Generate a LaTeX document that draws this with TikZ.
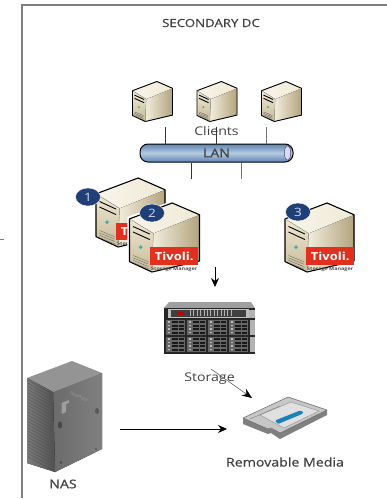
\documentclass[tikz,border=0pt]{standalone}
\usepackage{fontspec}
\setmainfont[FakeStretch=1.18]{Open Sans}
\newfontfamily\heavyfont[FakeStretch=1.18,FakeBold=0.6]{Open Sans}
\usetikzlibrary{arrows.meta,calc,shapes.geometric}
\definecolor{frameg}{HTML}{7F7F7F}
\definecolor{badge}{HTML}{E2301F}
\definecolor{numblue}{HTML}{1F3F76}
\definecolor{txt}{HTML}{404040}
\definecolor{lanA}{HTML}{5C86B4}
\definecolor{lanB}{HTML}{B4CADF}
\definecolor{sideA}{HTML}{F2EDDD}
\definecolor{sideB}{HTML}{B3A47E}
\definecolor{topA}{HTML}{F8F5EA}
\definecolor{topB}{HTML}{EFE9D6}
\definecolor{frontA}{HTML}{EFE8D3}
\definecolor{frontB}{HTML}{C6BA98}
\tikzset{
  lbl/.style={font=\fontsize{12}{13}\selectfont,text=txt,inner sep=0pt},
  heavy/.style={font=\heavyfont\fontsize{12}{13}\selectfont,text=txt,inner sep=0pt},
  wire/.style={draw=black!80,line width=.8pt},
  arr/.style={draw=black,line width=.7pt,-{Stealth[length=9pt,width=8pt]}},
  numdot/.style={ellipse,fill=numblue,draw=white,line width=.4pt,minimum width=25pt,minimum height=18pt,inner sep=0pt,text=white!85!blue,font=\fontsize{11.5}{12}\selectfont},
  tiv/.style={fill=badge,text=white,font=\bfseries\fontsize{11}{11}\selectfont,minimum width=48pt,minimum height=17.5pt,inner sep=0pt},
  sm/.style={font=\bfseries\fontsize{4.6}{5}\selectfont,text=black!70,inner sep=0pt},
  edge/.style={draw=black,line width=#1,line join=round}
}
% \tower{name}{x}{y}{w}{h}{line width}
\newcommand{\tower}[6]{%
  \node[inner sep=0pt,minimum width=#4pt,minimum height=#5pt,anchor=north west] (#1) at (#2,#3) {};
  \begin{scope}[shift={(#2,#3)},x=#4pt,y=-#5pt]
    \fill[white] (-.03,.2)--(.61,-.03)--(1.03,.15)--(1.03,.86)--(.3,1.03)--(-.03,.87)--cycle;
    \fill[left color=sideA,right color=sideB] (.34,.44)--(1,.17)--(1,.84)--(.32,1)--cycle;
    \fill[left color=topA,right color=topB] (0,.23)--(.61,0)--(1,.17)--(.34,.44)--cycle;
    \fill[top color=frontA,bottom color=frontB] (0,.23)--(.34,.44)--(.32,1)--(0,.85)--cycle;
    \draw[edge=#6] (0,.23)--(.61,0)--(1,.17)--(1,.84)--(.32,1)--(0,.85)--cycle;
    \draw[black!40,line width=.3pt] (0,.23)--(.34,.44)--(.32,1);
    \draw[black,line width=.9pt] (.05,.34)--(.29,.45);
    \draw[black,line width=.9pt] (.05,.42)--(.29,.53);
    \fill[white!30!teal] (.16,.64) circle[x radius=.028,y radius=.028];
    \foreach \k in {0,1,2,3} \draw[black!65,line width=.3pt] (.05,.76+.035*\k)--(.27,.85+.035*\k);
  \end{scope}}
% \tivoli{name}{x}{y}
\newcommand{\tivoli}[3]{%
  \node[tiv,anchor=north west] (#1) at (#2,#3) {Tivoli.};
  \node[sm,anchor=north] (#1sm) at ($(#1.south)+(0,2)$) {Storage Manager};}
\begin{document}
\begin{tikzpicture}[x=1pt,y=-1pt]
\useasboundingbox (0,0) rectangle (387,499);
% frame
\coordinate (ftr) at (387,5); \coordinate (ftl) at (22,5); \coordinate (fbl) at (22,498);
\draw[frameg,line width=1.4pt] (ftr)--(ftl)--(fbl);
\coordinate (tickA) at (0,239); \coordinate (tickB) at (3.5,239);
\draw[blue!60!gray!70,line width=.5pt] (tickA)--(tickB);
\node[heavy,font=\heavyfont\fontsize{11.2}{12}\selectfont] (title) at (211,23) {SECONDARY DC};
% clients
\tower{c1}{132.5}{81.5}{40}{40}{.9pt}
\tower{c2}{197}{81.5}{40}{40}{.9pt}
\tower{c3}{261.5}{81.5}{40}{40}{.9pt}
\node[lbl] (clients) at (216.5,131) {Clients};
% LAN
\node[inner sep=0pt,minimum width=153pt,minimum height=18pt,rounded corners=8pt,draw=black,line width=1pt,
  top color=lanA,bottom color=lanA,middle color=lanB] (lan) at (216.5,153) {};
\fill[white!85!blue,draw=black!70,line width=.5pt] ($(lan.east)+(-6,0)$) ellipse[x radius=3.2,y radius=7];
\node[heavy] (lantxt) at (lan.center) {LAN};
\coordinate (w1) at (165.5,127); \coordinate (w2) at (216.5,127); \coordinate (w3) at (266.5,127);
\coordinate (w4) at (191.5,179); \coordinate (w5) at (241.5,179);
\draw[wire] (w1)--(w1 |- lan.north);
\draw[wire] (w2)--(w2 |- lan.north);
\draw[wire,draw=black!55] (w3)--(w3 |- lan.north);
\draw[wire] (lan.south -| w4)--(w4);
\draw[wire,draw=black!55] (lan.south -| w5)--(w5);
% servers
\tower{s1}{96}{178}{69}{69}{1.1pt}
\tivoli{b1}{116}{222.5}
\tower{s2}{129.5}{203}{70}{69}{1.1pt}
\tivoli{b2}{150}{247}
\tower{s3}{285}{203}{69}{69}{1.1pt}
\tivoli{b3}{306}{247}
\node[numdot] (n1) at (88,197) {1};
\node[numdot] (n2) at (152,213) {2};
\node[numdot] (n3) at (298,212) {3};
% storage
\node[inner sep=0pt,minimum width=91pt,minimum height=52pt,anchor=north west] (st) at (164,302) {};
\fill[gray!75] (169,302)--(251,302)--(255,308)--(164,308)--cycle;
\fill[black!85] (164,308) rectangle (255,354);
\fill[gray!50] (168,308.5) rectangle (249,318);
\fill[black!75] (171,310) rectangle (246,317);
\fill[red!75!black] (177,311.5) rectangle (184,314.5);
\foreach \i in {0,...,12} \fill[gray!60] (190+3.4*\i,310) rectangle (191+3.4*\i,316);
\fill[gray!60] (249,310) rectangle (255,318);
\foreach \yy in {320,337}{
  \foreach \xx in {166,187,208,229}{
    \fill[black!60] (\xx,\yy) rectangle (\xx+19,\yy+15);
    \foreach \r in {0,1,2,3}{
      \fill[black!90] (\xx+6,\yy+1+3.5*\r) rectangle (\xx+12,\yy+3+3.5*\r);
      \fill[black!90] (\xx+13,\yy+1+3.5*\r) rectangle (\xx+18,\yy+3+3.5*\r);
      \fill[white!75!black] (\xx+2,\yy+1+3.5*\r) rectangle (\xx+4,\yy+2.6+3.5*\r);
    }
  }
  \fill[gray!60] (250,\yy) rectangle (255,\yy+15);
}
\node[lbl] (stlbl) at (209.5,379) {Storage};
% arrows
\coordinate (a1) at (215,267); \coordinate (a2) at (215,287);
\draw[arr] (a1)--(a2);
\coordinate (a3) at (211,369); \coordinate (a4) at (252,398);
\draw[draw=black!70,line width=.5pt,-{Stealth[length=10pt,width=8pt,black]}] (a3)--(a4);
\coordinate (a5) at (120,429); \coordinate (a6) at (227,429);
\draw[arr] (a5)--(a6);
% NAS
\node[inner sep=0pt,minimum width=75pt,minimum height=111pt,anchor=north west] (nas) at (27,361) {};
\fill[left color=black!58,right color=black!50] (53,392)--(102,373)--(102,449)--(55,472)--cycle;
\fill[black!42] (27,378)--(72,361)--(102,373)--(53,392)--cycle;
\fill[left color=black!52,right color=black!68] (27,378)--(53,392)--(55,472)--(27,463)--cycle;
\foreach \k in {0,...,24} \draw[black!72,line width=.2pt] (28,380+3.2*\k)--(52.5,394+3.15*\k);
\fill[black!38] (61.5,403)--(69,400)--(69,403)--(66,404)--(66,412)--(61.5,414)--cycle;
\node[font=\fontsize{4.5}{5}\selectfont,text=black!40,inner sep=0pt,rotate=-21] (nalogo) at (79,397) {NetApp};
\fill[black!72] (60,425) ellipse[x radius=2.2,y radius=3.5];
\fill[black!65] (97,411) ellipse[x radius=2,y radius=3];
\fill[black!72] (61,462.5) circle[radius=1.3];
\fill[black!65] (96,449) circle[radius=1.2];
\node[heavy] (naslbl) at (63,484) {NAS};
% media
\node[inner sep=0pt,minimum width=84pt,minimum height=42pt,anchor=north west] (med) at (243,397) {};
\fill[black!50] (243,418)--(243,424)--(268,434)--(271,433)--(280,439)--(327,415)--(327,410)--(280,432)--cycle;
\fill[black!22,draw=black!60,line width=.5pt,line join=round] (243,418)--(288,397)--(327,410)--(280,433)--(271,428)--(268,429)--cycle;
\fill[black!12,draw=black!45,line width=.4pt] (260,415)--(291,402)--(319,411)--(284,428)--cycle;
\fill[blue!35!cyan!70!black!90,rounded corners=1pt] (275,420.5)--(300,410.5)--(303.5,412)--(302,414)--(278,424)--cycle;
\draw[black!50,line width=.4pt] (250,419)--(280,406);
\node[heavy] (medlbl) at (285,462) {Removable Media};
\end{tikzpicture}
\end{document}
